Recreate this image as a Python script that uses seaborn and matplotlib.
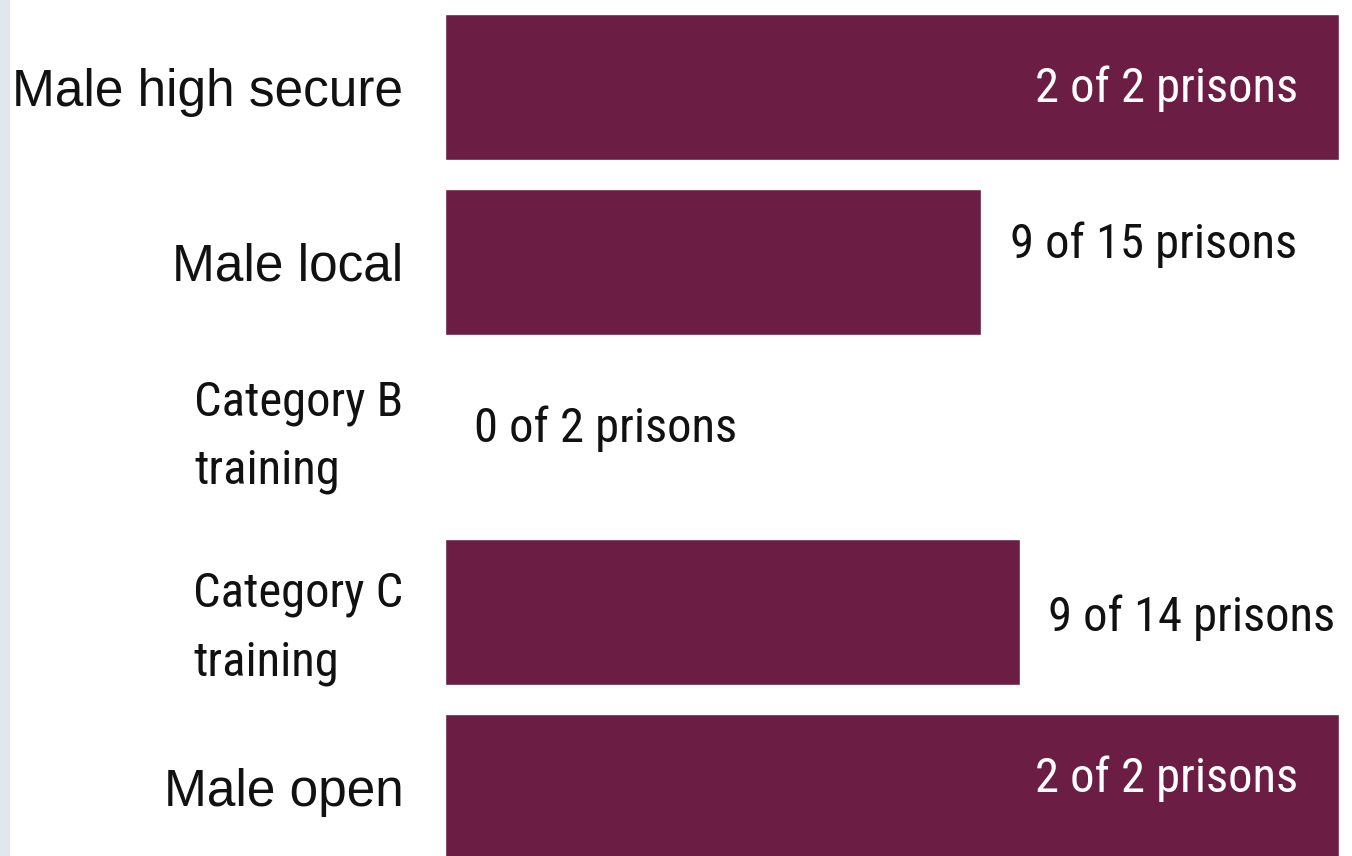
import matplotlib
matplotlib.use("Agg")
import matplotlib.pyplot as plt
from matplotlib import font_manager as fm
import seaborn as sns
import pandas as pd
from matplotlib.patches import Rectangle

# Prison types and how many of them reached the standard
categories = ["Male high secure", "Male local", "Category B\ntraining",
              "Category C\ntraining", "Male open"]
achieved = [2, 9, 0, 9, 2]
totals = [2, 15, 2, 14, 2]

share = [a / t for a, t in zip(achieved, totals)]
labels = [f"{a} of {t} prisons" for a, t in zip(achieved, totals)]
df = pd.DataFrame({"category": categories, "share": share})

# small vertical nudges for the value labels (in bar-row units)
label_nudge = [0.01, -0.10, -0.05, 0.03, -0.05]


def has_font(name):
    try:
        fm.findfont(fm.FontProperties(family=name), fallback_to_default=False)
        return True
    except ValueError:
        return False


condensed = [n for n in ["Liberation Sans Narrow", "Roboto Condensed",
                         "Open Sans Condensed", "Noto Sans Condensed",
                         "Arial Narrow"] if has_font(n)]
narrow_name = condensed[0] if condensed else None

sns.set_theme(style="white")
plt.rcParams["font.family"] = ["Liberation Sans", "DejaVu Sans"]
if narrow_name:
    narrow = [narrow_name, "DejaVu Sans"]
    narrow_size = 35
else:
    narrow = ["Liberation Sans", "DejaVu Sans"]
    narrow_size = 30

bar_color = "#6b1d44"
fig = plt.figure(figsize=(13.52, 8.56), dpi=100)
fig.patch.set_facecolor("white")
fig.add_artist(Rectangle((0, 0), 10 / 1352, 1, transform=fig.transFigure,
                         facecolor="#e1e6ef", edgecolor="none"))

ax = fig.add_axes([445 / 1352, 0, 1 - 445 / 1352, 1])
sns.barplot(data=df, y="category", x="share", orient="h", color=bar_color,
            saturation=1, width=0.834, ax=ax)

ax.set_xlim(0, 907 / 894)
ax.set_ylim(4.394, -0.497)
ax.set_xlabel("")
ax.set_ylabel("")
ax.set_xticks([])
for s in ax.spines.values():
    s.set_visible(False)

ax.tick_params(axis="y", length=0, pad=30)
for lab in ax.get_yticklabels():
    txt = lab.get_text()
    if "\n" in txt:
        lab.set_family(narrow)
        lab.set_fontsize(narrow_size)
        lab.set_multialignment("left")
        lab.set_linespacing(1.62)
        if txt.startswith("Category B"):
            lab.set_verticalalignment("center")
    else:
        lab.set_fontsize(37)
    lab.set_color("#111111")

# Value labels: inside full bars (white), otherwise just past the bar end
for i, (v, text) in enumerate(zip(share, labels)):
    y = i + label_nudge[i]
    if v >= 0.95:
        ax.text(v - 0.046, y, text, ha="right", va="center",
                color="white", fontsize=narrow_size, family=narrow)
    else:
        ax.text(v + 0.032, y, text, ha="left", va="center",
                color="#111111", fontsize=narrow_size, family=narrow,
                clip_on=False)

fig.savefig("out.png", dpi=100, facecolor="white")
